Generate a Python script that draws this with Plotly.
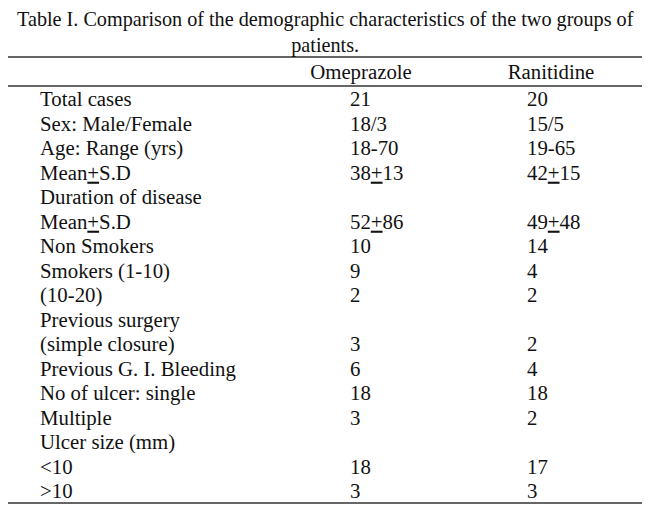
import plotly.graph_objects as go

# table content
row_labels = [
    "Total cases", "Sex: Male/Female", "Age: Range (yrs)", "Mean<u>+</u>S.D",
    "Duration of disease", "Mean<u>+</u>S.D", "Non Smokers", "Smokers (1-10)",
    "(10-20)", "Previous surgery", "(simple closure)", "Previous G. I. Bleeding",
    "No of ulcer: single", "Multiple", "Ulcer size (mm)", "<10", ">10",
]
omeprazole = [
    "21", "18/3", "18-70", "38<u>+</u>13", "", "52<u>+</u>86", "10", "9",
    "2", "", "3", "6", "18", "3", "", "18", "3",
]
ranitidine = [
    "20", "15/5", "19-65", "42<u>+</u>15", "", "49<u>+</u>48", "14", "4",
    "2", "", "2", "4", "18", "2", "", "17", "3",
]
headers = ["Omeprazole", "Ranitidine"]
title = ("Table I. Comparison of the demographic characteristics of the two groups of"
         "<br>patients.")

W, H = 650, 516
page_margin = 8  # default body margin of the html page
row_h = 24.5
first_row_px = 101
font = dict(family="Liberation Serif, Times New Roman, serif", size=20.8, color="#111")
title_font = dict(font, size=20.2)


def row_of(px):
    return (px - first_row_px) / row_h


rows = list(range(len(row_labels)))
# column left edges (px)
col_label, col_ome, col_ran = 40, 350, 527

fig = go.Figure()
for xpos, txt in ((col_label, row_labels), (col_ome, omeprazole), (col_ran, ranitidine)):
    fig.add_trace(go.Scatter(x=[xpos] * len(rows), y=rows, text=txt,
                             mode="text", textposition="middle right",
                             textfont=font, hoverinfo="skip"))
# header row
fig.add_trace(go.Scatter(x=[361, 551], y=[row_of(74)] * 2, text=headers,
                         mode="text", textposition="middle center",
                         textfont=font, hoverinfo="skip"))

line = dict(color="#333", width=1.6)
for py in (57, 86, 503):
    fig.add_shape(type="line", xref="x", yref="y", x0=0, x1=647,
                  y0=row_of(py), y1=row_of(py), line=line)

fig.add_annotation(text=title, xref="x", yref="y", x=325, y=row_of(32),
                   showarrow=False, font=title_font, align="center")

fig.update_xaxes(range=[page_margin, W + page_margin], visible=False, fixedrange=True)
fig.update_yaxes(range=[row_of(H + page_margin), row_of(page_margin)],
                 visible=False, fixedrange=True)
fig.update_layout(width=W, height=H, margin=dict(l=0, r=0, t=0, b=0),
                  showlegend=False, plot_bgcolor="white", paper_bgcolor="white")

fig.write_html("out.html")
